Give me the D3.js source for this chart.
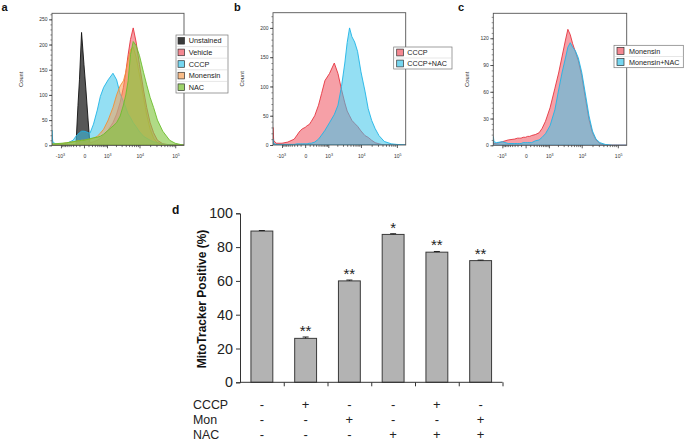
<!DOCTYPE html>
<html><head><meta charset="utf-8">
<script src="https://cdn.jsdelivr.net/npm/d3@7"></script>
<style>
body{margin:0;background:#fff}
svg{display:block;font-family:Arial,"Liberation Sans",sans-serif}
</style>
</head><body>
<svg id="chart" width="685" height="441"></svg>
<script>
// ---------- histogram data (fluorescence intensity grid, counts) ----------
const intensity = [-2000,-1900,-1600,-1000,-600,-300,-200,-140,-100,-50,0,40,90,140,250,400,550,750,1100,1600,2100,2700,3400,4000,4700,5500,6600,8000,10000,13000,16000,20000,25000,32000,45000,70000,100000,175000];

const aUnstained = [0,0,0,0,0,0,0,79,130,224,160,110,50,0,0,0,0,0,0,0,0,0,0,0,0,0,0,0,0,0,0,0,0,0,0,0,0,0];
const aVehicle   = [2,1,1,1,1,1,2,2,2,3,3,4,4,5,7,10,14,20,30,45,62,85,115,145,180,210,233,205,160,110,75,45,25,10,3,1,0,0];
const aCCCP      = [30,8,3,2,4,10,18,22,25,28,28,27,25,24,42,70,97,115,130,143,130,102,87,75,62,55,45,37,27,18,14,10,7,5,2,1,0,0];
const aMonensin  = [3,2,2,3,5,7,8,9,9,10,10,11,12,12,14,18,24,32,50,75,100,118,128,145,170,190,195,175,140,95,60,32,14,5,1,0,0,0];
const aNAC       = [3,3,3,4,5,7,8,9,9,10,10,11,12,13,15,16,18,22,30,38,45,58,80,100,128,180,206,198,178,145,120,95,75,50,28,10,4,0];

const bCCCP      = [30,8,3,3,5,10,17,22,25,28,30,33,35,40,50,68,88,110,122,140,122,95,72,58,50,42,37,32,24,16,13,8,4,2,0,0,0,0];
const bCCCPNAC   = [10,3,1,1,1,1,2,2,2,2,2,2,3,3,5,10,17,25,38,52,68,100,140,175,200,185,176,160,125,92,62,42,28,16,6,2,1,0];

const cMon       = [4,2,2,4,6,7,8,8,8,9,9,10,10,11,12,14,19,27,42,64,81,100,118,130,124,114,105,95,78,50,29,14,6,2,0,0,0,0];
const cMonNAC    = [10,4,3,4,2,2,2,2,2,3,3,3,3,3,5,6,9,13,22,40,62,82,98,110,115,110,106,98,82,55,33,16,7,3,1,0,0,0];

const xMajorTicks = [-1000,0,1000,10000,100000];
const xMajorLabels = [["-10","3"],["0",""],["10","3"],["10","4"],["10","5"]];
const xMinorTicks = [-900,-800,-700,-600,-500,-400,-300,-200,-100,100,200,300,400,500,600,700,800,900,2000,3000,4000,5000,6000,7000,8000,9000,20000,30000,40000,50000,60000,70000,80000,90000];

// ---------- bar chart data ----------
const conditions = [1,2,3,4,5,6];
const mitoPositive = [89.5,26,60,87.5,77,72];
const mitoErr = [0.3,0.8,0.5,0.4,0.4,0.3];
const sigMarks = ["","**","**","*","**","**"];
const rowLabels = ["CCCP","Mon","NAC"];
const rowCCCP = ["-","+","-","-","+","-"];
const rowMon  = ["-","-","+","-","-","+"];
const rowNAC  = ["-","-","-","+","+","+"];
const yTicksD = [0,20,40,60,80,100];

const svg = d3.select("#chart");

const COL = {
  black:  {fill:"#3a3a3a", op:0.85, stroke:"#111"},
  red:    {fill:"#f0606c", op:0.6,  stroke:"#e53440"},
  cyan:   {fill:"#3cc4ea", op:0.55, stroke:"#1fb4e6"},
  orange: {fill:"#f7a055", op:0.55, stroke:"#f39035"},
  green:  {fill:"#86c845", op:0.65, stroke:"#6cbd2c"}
};

let clipId = 0;
function histPanel(p){
  const g = svg.append("g");
  const x = d3.scaleSymlog().constant(300).domain([-2000,175000]).range([p.left,p.right]);
  const y = d3.scaleLinear().domain([0,p.yMax]).range([p.bottom,p.top]);
  const cid = "clip"+(clipId++);
  svg.append("defs").append("clipPath").attr("id",cid)
    .append("rect").attr("x",p.left).attr("y",p.top).attr("width",p.right-p.left).attr("height",p.bottom-p.top);
  const area = d3.area().x((d,i)=>x(intensity[i])).y0(y(0)).y1(d=>y(d));
  const ga = g.append("g").attr("clip-path","url(#"+cid+")");
  p.series.forEach(s=>{
    ga.append("path").datum(s.values).attr("d",area)
      .attr("fill",s.col.fill).attr("fill-opacity",s.col.op)
      .attr("stroke",s.col.stroke).attr("stroke-width",0.9).attr("stroke-linejoin","round");
  });
  // frame
  g.append("rect").attr("x",p.left).attr("y",p.top).attr("width",p.right-p.left).attr("height",p.bottom-p.top)
    .attr("fill","none").attr("stroke","#555").attr("stroke-width",0.9);
  // y axis
  const yMinor = d3.range(0,p.yMax,p.yMinorStep);
  const yA = g.append("g").attr("transform",`translate(${p.left},0)`)
    .call(d3.axisLeft(y).tickValues(yMinor).tickSize(1.6).tickFormat(""));
  yA.select(".domain").remove();
  yA.selectAll("line").attr("stroke","#444").attr("stroke-width",0.6);
  const yB = g.append("g").attr("transform",`translate(${p.left},0)`)
    .call(d3.axisLeft(y).tickValues(p.yTicks).tickSize(3).tickPadding(1.5).tickFormat(d3.format("d")));
  yB.select(".domain").remove();
  yB.selectAll("line").attr("stroke","#333").attr("stroke-width",0.8);
  yB.selectAll("text").attr("font-size",5).attr("fill","#333").attr("font-family","Arial");
  // x axis
  const xA = g.append("g").attr("transform",`translate(0,${p.bottom})`)
    .call(d3.axisBottom(x).tickValues(xMinorTicks).tickSize(1.8).tickFormat(""));
  xA.select(".domain").remove();
  xA.selectAll("line").attr("stroke","#333").attr("stroke-width",0.7);
  const xB = g.append("g").attr("transform",`translate(0,${p.bottom})`)
    .call(d3.axisBottom(x).tickValues(xMajorTicks).tickSize(3).tickFormat(""));
  xB.select(".domain").remove();
  xB.selectAll("line").attr("stroke","#333").attr("stroke-width",0.8);
  xMajorTicks.forEach((v,i)=>{
    const t = g.append("text").attr("x",x(v)+(i===0?-0.5:0.8)).attr("y",p.bottom+12.5)
      .attr("text-anchor","middle").attr("font-size",5).attr("fill","#333");
    t.append("tspan").text(xMajorLabels[i][0]);
    if(xMajorLabels[i][1]) t.append("tspan").attr("dy",-2).attr("font-size",3.6).text(xMajorLabels[i][1]);
  });
  // Count label
  g.append("text").attr("transform",`translate(${p.countX},${(p.top+p.bottom)/2}) rotate(-90)`)
    .attr("text-anchor","middle").attr("font-size",5.8).attr("fill","#333").text("Count");
  // panel letter
  g.append("text").attr("x",p.letterX).attr("y",10.5).attr("font-size",11).attr("font-weight","bold")
    .attr("fill","#111").text(p.letter);
  // legend
  const L = p.legend;
  const lg = g.append("g");
  lg.append("rect").attr("x",L.x).attr("y",L.y).attr("width",L.w).attr("height",L.rowH*L.items.length)
    .attr("fill","#fff").attr("stroke","#777").attr("stroke-width",0.7);
  L.items.forEach((it,i)=>{
    const cy = L.y + L.rowH*(i+0.5);
    if(i>0) lg.append("line").attr("x1",L.x).attr("x2",L.x+L.w).attr("y1",L.y+L.rowH*i).attr("y2",L.y+L.rowH*i)
      .attr("stroke","#ccc").attr("stroke-width",0.5);
    lg.append("rect").attr("x",L.x+L.sx).attr("y",cy-L.ss/2).attr("width",L.ss).attr("height",L.ss)
      .attr("fill",it.col.fill).attr("fill-opacity",Math.min(1,it.col.op+0.15)).attr("stroke","#333").attr("stroke-width",0.7);
    lg.append("text").attr("x",L.x+L.tx).attr("y",cy+2.6).attr("font-size",L.fs).attr("fill","#222").text(it.name);
  });
}

histPanel({
  left:52, right:184, top:13.3, bottom:145.3, yMax:262, yTicks:[0,50,100,150,200,250], yMinorStep:10,
  countX:23, letter:"a", letterX:1.5,
  series:[
    {values:aUnstained,col:COL.black},
    {values:aVehicle,col:COL.red},
    {values:aCCCP,col:COL.cyan},
    {values:aMonensin,col:COL.orange},
    {values:aNAC,col:COL.green}
  ],
  legend:{x:176,y:35,w:52,rowH:11.6,sx:2,ss:6.6,tx:12.7,fs:7.3,items:[
    {name:"Unstained",col:COL.black},{name:"Vehicle",col:COL.red},{name:"CCCP",col:COL.cyan},
    {name:"Monensin",col:COL.orange},{name:"NAC",col:COL.green}]}
});
histPanel({
  left:273, right:405.7, top:12.7, bottom:145, yMax:226, yTicks:[0,50,100,150,200], yMinorStep:10,
  countX:243.5, letter:"b", letterX:234,
  series:[
    {values:bCCCP,col:COL.red},
    {values:bCCCPNAC,col:COL.cyan}
  ],
  legend:{x:393.7,y:47,w:58.3,rowH:11,sx:3,ss:6.8,tx:13.6,fs:7.2,items:[
    {name:"CCCP",col:COL.red},{name:"CCCP+NAC",col:COL.cyan}]}
});
histPanel({
  left:493.3, right:626.7, top:13.3, bottom:145.3, yMax:148, yTicks:[0,30,60,90,120], yMinorStep:6,
  countX:468.5, letter:"c", letterX:458,
  series:[
    {values:cMon,col:COL.red},
    {values:cMonNAC,col:COL.cyan}
  ],
  legend:{x:614,y:45.3,w:69.3,rowH:11.2,sx:3,ss:7,tx:15,fs:7.2,items:[
    {name:"Monensin",col:COL.red},{name:"Monensin+NAC",col:COL.cyan}]}
});

// ---------- panel d ----------
(function(){
  const g = svg.append("g");
  const x0 = 240, x1 = 502.5, yb = 382.3, yt = 213.3;
  const xb = d3.scaleBand().domain(conditions).range([x0,x1]).paddingInner(0.5).paddingOuter(0.25);
  const xl = d3.scaleLinear().domain([0,6]).range([x0,x1]);
  const y = d3.scaleLinear().domain([0,100]).range([yb,yt]);
  // bars
  g.selectAll("rect.bar").data(mitoPositive).enter().append("rect")
    .attr("x",(d,i)=>xb(conditions[i])).attr("width",xb.bandwidth())
    .attr("y",d=>y(d)).attr("height",d=>yb-y(d))
    .attr("fill","#b3b3b3").attr("stroke","#3a3a3a").attr("stroke-width",1);
  // error bars
  mitoPositive.forEach((v,i)=>{
    const cx = xb(conditions[i])+xb.bandwidth()/2;
    g.append("line").attr("x1",cx).attr("x2",cx).attr("y1",y(v)).attr("y2",y(v+mitoErr[i])).attr("stroke","#222").attr("stroke-width",1);
    g.append("line").attr("x1",cx-3).attr("x2",cx+3).attr("y1",y(v+mitoErr[i])).attr("y2",y(v+mitoErr[i])).attr("stroke","#222").attr("stroke-width",1);
    if(sigMarks[i]) g.append("text").attr("x",cx).attr("y",y(v+mitoErr[i])-1)
      .attr("text-anchor","middle").attr("font-size",15).attr("fill","#222").text(sigMarks[i]);
  });
  // y axis
  const ya = g.append("g").attr("transform",`translate(${x0},0)`)
    .call(d3.axisLeft(y).tickValues(yTicksD).tickSize(4).tickPadding(3));
  ya.select(".domain").attr("stroke","#333");
  ya.selectAll("line").attr("stroke","#333");
  ya.selectAll("text").attr("font-size",14.3).attr("fill","#222").attr("font-family","Arial");
  // x axis
  const xa = g.append("g").attr("transform",`translate(0,${yb})`)
    .call(d3.axisBottom(xl).tickValues([1,2,3,4,5,6]).tickSize(4).tickFormat(""));
  xa.select(".domain").attr("stroke","#333").attr("d",`M${x0},0H${x1}`);
  xa.selectAll("line").attr("stroke","#333");
  // y label
  g.append("text").attr("transform",`translate(206,299) rotate(-90)`).attr("text-anchor","middle")
    .attr("font-size",12).attr("font-weight","bold").attr("fill","#111").text("MitoTracker Positive (%)");
  // panel letter
  g.append("text").attr("x",172).attr("y",214).attr("font-size",12).attr("font-weight","bold").attr("fill","#111").text("d");
  // condition rows
  const rows = [rowCCCP,rowMon,rowNAC];
  const rowY = [404.3,419.3,434.3];
  rowLabels.forEach((lab,r)=>{
    g.append("text").attr("x",193).attr("y",rowY[r]+4.5).attr("font-size",12.4).attr("fill","#222").text(lab);
    rows[r].forEach((s,i)=>{
      const cx = xb(conditions[i])+xb.bandwidth()/2;
      g.append("text").attr("x",cx).attr("y",rowY[r]+4.5).attr("text-anchor","middle")
        .attr("font-size",13).attr("fill","#222").text(s);
    });
  });
})();
</script>
</body></html>
